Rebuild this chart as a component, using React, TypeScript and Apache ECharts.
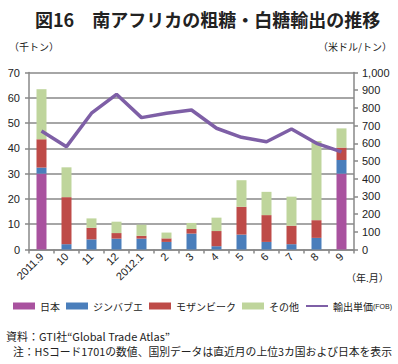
import React, { useEffect, useRef } from "react";
import * as echarts from "echarts";

const categories = ["2011.9", "10", "11", "12", "2012.1", "2", "3", "4", "5", "6", "7", "8", "9"];
const japan = [30, 0, 0, 0, 0, 0, 0, 0, 0, 0, 0, 0, 30];
const zimbabwe = [2.4, 2.1, 4.0, 4.3, 4.3, 3.0, 6.3, 1.3, 5.9, 3.0, 2.1, 4.6, 5.4];
const mozambique = [11.2, 18.6, 4.6, 2.2, 1.1, 1.4, 1.8, 6.0, 11.0, 10.6, 7.3, 7.0, 4.9];
const others = [19.8, 11.8, 3.7, 4.5, 4.4, 2.3, 2.4, 5.3, 10.5, 9.2, 11.5, 31.3, 7.6];
const unitPrice = [670, 581, 770, 877, 745, 770, 788, 685, 634, 609, 681, 600, 552];
const leftTicks = { min: 0, max: 70, interval: 10 };
const rightTicks = { min: 0, max: 1000, interval: 100 };

const FONT = "'Liberation Sans', 'Noto Sans CJK JP', sans-serif";
const JP = "'Noto Sans CJK JP', sans-serif";
const AXIS = "#888888";

export default function App() {
  const ref = useRef<HTMLDivElement>(null);
  useEffect(() => {
    if (!ref.current) return;
    const chart = echarts.init(ref.current, null, { renderer: "svg" });
    const barBase = { type: "bar", stack: "total", barWidth: 10, yAxisIndex: 0 };
    chart.setOption({
      animation: false,
      textStyle: { fontFamily: FONT },
      title: {
        text: "図16　南アフリカの粗糖・白糖輸出の推移",
        left: 30,
        top: 5,
        textStyle: { fontFamily: JP, fontSize: 18, fontWeight: "bold", color: "#222" },
      },
      grid: { left: 29, right: 44, top: 72.5, bottom: 114.5 },
      legend: {
        left: 13,
        top: 301,
        width: 395,
        padding: 0,
        itemWidth: 22,
        itemHeight: 7,
        itemGap: 6,
        textStyle: { fontFamily: JP, fontSize: 10, color: "#222", rich: { s: { fontSize: 7, fontFamily: FONT, color: "#222" } } },
        formatter: (name: string) => (name === "輸出単価（FOB）" ? "輸出単価{s|(FOB)}" : name),
        data: [
          { name: "日本", icon: "rect" },
          { name: "ジンバブエ", icon: "rect" },
          { name: "モザンビーク", icon: "rect" },
          { name: "その他", icon: "rect" },
          { name: "輸出単価（FOB）", itemStyle: { opacity: 0 } },
        ],
      },
      xAxis: {
        type: "category",
        data: categories,
        boundaryGap: true,
        axisLine: { lineStyle: { color: AXIS, width: 1.5 } },
        axisTick: { show: true, length: 4, lineStyle: { color: AXIS, width: 1.5 } },
        axisLabel: { rotate: 45, fontSize: 11, color: "#222", margin: 5, interval: 0 },
      },
      yAxis: [
        {
          type: "value",
          ...leftTicks,
          axisLine: { show: true, lineStyle: { color: AXIS, width: 1.5 } },
          axisTick: { show: true, length: 4, lineStyle: { color: AXIS, width: 1.5 } },
          splitLine: { show: true, lineStyle: { color: AXIS, width: 1.5 } },
          axisLabel: { fontSize: 11, color: "#222", margin: 9 },
        },
        {
          type: "value",
          ...rightTicks,
          position: "right",
          axisLine: { show: true, lineStyle: { color: AXIS, width: 1.5 } },
          axisTick: { show: true, length: 4, lineStyle: { color: AXIS, width: 1.5 } },
          splitLine: { show: false },
          axisLabel: {
            fontSize: 11,
            color: "#222",
            margin: 8,
            formatter: (v: number) => v.toLocaleString("en-US"),
          },
        },
      ],
      series: [
        { ...barBase, name: "日本", data: japan, itemStyle: { color: "#A9529F" } },
        { ...barBase, name: "ジンバブエ", data: zimbabwe, itemStyle: { color: "#4A7EBB" } },
        { ...barBase, name: "モザンビーク", data: mozambique, itemStyle: { color: "#BE4B48" } },
        { ...barBase, name: "その他", data: others, itemStyle: { color: "#BFD59C" } },
        {
          type: "line",
          name: "輸出単価（FOB）",
          yAxisIndex: 1,
          data: unitPrice,
          symbol: "none",
          lineStyle: { color: "#7E5FA6", width: 3.5 },
          itemStyle: { color: "#7E5FA6" },
          z: 5,
        },
      ],
      graphic: [
        { type: "text", left: 9, top: 41, style: { text: "（千トン）", fontFamily: JP, fontSize: 10, fill: "#222" } },
        { type: "text", left: 318, top: 41, style: { text: "（米ドル/トン）", fontFamily: JP, fontSize: 10, fill: "#222" } },
        { type: "text", left: 346, top: 272, style: { text: "（年.月）", fontFamily: JP, fontSize: 10, fill: "#222" } },
        { type: "text", left: 6, top: 330, style: { text: "資料：GTI社“Global Trade Atlas”", fontFamily: JP, fontSize: 11, fill: "#222" } },
        { type: "text", left: 13, top: 346, style: { text: "注：HSコード1701の数値、国別データは直近月の上位3カ国および日本を表示", fontFamily: JP, fontSize: 10.8, fill: "#222" } },
      ],
    });
    return () => chart.dispose();
  }, []);
  return <div ref={ref} style={{ position: "absolute", left: 0, top: 0, width: 398, height: 364 }} />;
}
